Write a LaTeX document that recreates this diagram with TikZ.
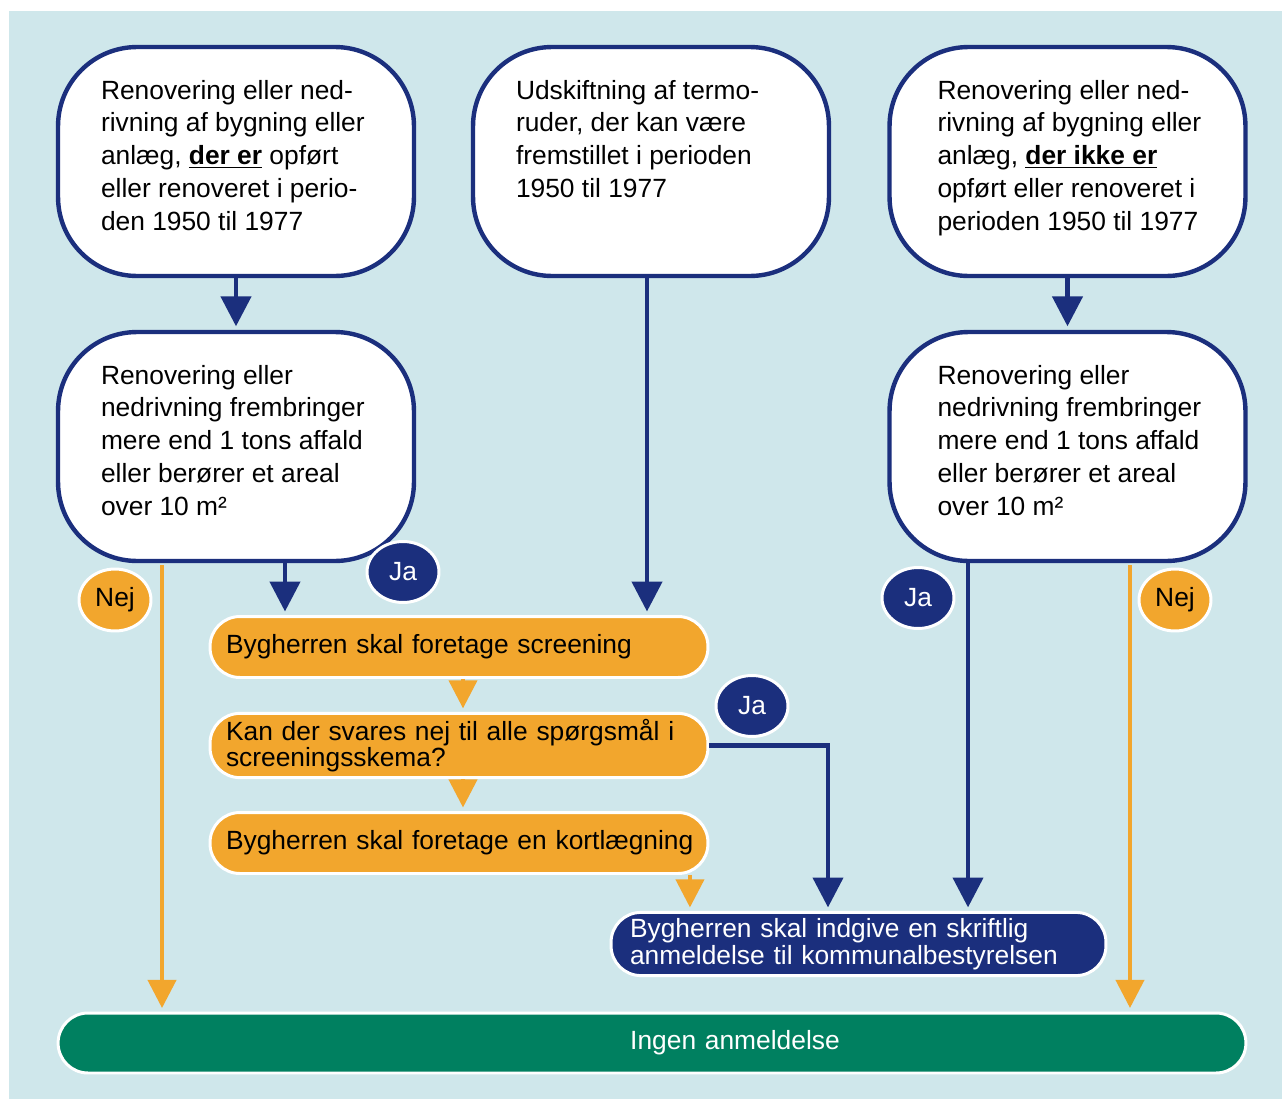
\documentclass[tikz,border=0pt]{standalone}
\usepackage{fontspec}
\setmainfont{Liberation Sans}
\usetikzlibrary{arrows.meta,shapes.geometric}

\definecolor{baggrund}{HTML}{CFE7EB}
\definecolor{marine}{HTML}{1B2F7D}
\definecolor{okker}{HTML}{F2A62D}
\definecolor{groen}{HTML}{008060}

% tekst i de hvide bokse, sat fra toppen
\newcommand{\boksfelt}[1]{\parbox[c][3.26cm][t]{5.4cm}{\raggedright #1}}

\tikzset{
    spoergsmaal/.style={draw=marine, line width=2.5pt, fill=white, rounded corners=45pt,
        inner xsep=0.86cm, inner ysep=0.66cm},
    handling/.style={draw=white, line width=1.7pt, fill=okker, rounded corners=17pt,
        minimum width=9.96cm, minimum height=1.22cm, text width=9.32cm, inner xsep=0.32cm,
        align=left},
    anmeldboks/.style={draw=white, line width=1.7pt, fill=marine, text=white, rounded corners=17pt,
        minimum width=9.9cm, minimum height=1.24cm, text width=9.14cm, inner xsep=0.38cm,
        align=left},
    slutboks/.style={draw=white, line width=1.7pt, fill=groen, text=white, rounded corners=17pt,
        minimum width=23.76cm, minimum height=1.2cm, text width=23cm, align=center},
    nejmaerke/.style={ellipse, draw=white, line width=1.7pt, fill=okker, inner sep=0pt,
        minimum width=1.44cm, minimum height=1.24cm},
    jamaerke/.style={ellipse, draw=white, line width=1.7pt, fill=marine, text=white, inner sep=0pt,
        minimum width=1.44cm, minimum height=1.22cm},
    navypil/.style={draw=marine, line width=2.6pt, -{Triangle[width=17pt,length=17pt]},
        shorten >=2pt},
    okkerpil/.style={draw=okker, line width=2.2pt, -{Triangle[width=16pt,length=16pt]},
        shorten >=2pt}
}

\begin{document}
\begin{tikzpicture}[x=0.02cm, y=-0.02cm, every node/.append style={font=\fontsize{15}{18.7}\selectfont}]
    % Baggrund
    \useasboundingbox (0,0) rectangle (1282,1099);
    \fill[baggrund] (9,11) rectangle (1282,1099);

    % Udgangspunkter
    \node[spoergsmaal] (renA) at (236,161.5) {\boksfelt{
        Renovering eller ned-\\
        rivning af bygning eller\\
        anlæg, \underline{\textbf{der er}} opført\\
        eller renoveret i perio-\\
        den 1950 til 1977}};
    \node[spoergsmaal] (termo) at (651,161.5) {\boksfelt{
        Udskiftning af termo-\\
        ruder, der kan være\\
        fremstillet i perioden\\
        1950 til 1977}};
    \node[spoergsmaal] (renB) at (1067.5,161.5) {\boksfelt{
        \hspace*{0.1cm}Renovering eller ned-\\
        \hspace*{0.1cm}rivning af bygning eller\\
        \hspace*{0.1cm}anlæg, \underline{\textbf{der ikke er}}\\
        \hspace*{0.1cm}opført eller renoveret i\\
        \hspace*{0.1cm}perioden 1950 til 1977}};

    % Affaldsmængde
    \node[spoergsmaal] (affA) at (236,446.5) {\boksfelt{
        Renovering eller\\
        nedrivning frembringer\\
        mere end 1 tons affald\\
        eller berører et areal\\
        over 10 m²}};
    \node[spoergsmaal] (affB) at (1067.5,446.5) {\boksfelt{
        \hspace*{0.1cm}Renovering eller\\
        \hspace*{0.1cm}nedrivning frembringer\\
        \hspace*{0.1cm}mere end 1 tons affald\\
        \hspace*{0.1cm}eller berører et areal\\
        \hspace*{0.1cm}over 10 m²}};

    % Screening og kortlægning
    \node[handling] (screen) at (459,647) {Bygherren skal foretage screening};
    \node[handling, font=\fontsize{15}{14.7}\selectfont] (spm) at (459,745.5) {Kan der svares nej til alle spørgsmål i\\ screeningsskema?};
    \node[handling] (kort) at (459,843) {\mbox{Bygherren skal foretage en kortlægning}};

    % Resultater
    \node[anmeldboks, font=\fontsize{15}{15.3}\selectfont] (anm) at (858.5,944) {Bygherren skal indgive en skriftlig\\ anmeldelse til kommunalbestyrelsen};
    \node[slutboks] (ingen) at (652,1043) {\hspace*{3.32cm}Ingen anmeldelse};

    % Ja/Nej
    \node[nejmaerke] (nejA) at (115,600) {Nej};
    \node[jamaerke] (jaA) at (403,572) {Ja};
    \node[jamaerke] (jaB) at (918,598) {Ja};
    \node[nejmaerke] (nejB) at (1175,600) {Nej};
    \node[jamaerke] (jaC) at (752,706) {Ja};

    % Pile
    \draw[navypil] (renA.south) -- (affA.north);
    \draw[navypil] (renB.south) -- (affB.north);
    \draw[navypil] ([xshift=0.98cm]affA.south) -- ([xshift=0.98cm]affA.south |- screen.north);
    \draw[navypil] ([xshift=-0.08cm]termo.south) -- ([xshift=-0.08cm]termo.south |- screen.north);
    \draw[navypil] ([xshift=-1.99cm]affB.south) -- ([xshift=-1.99cm]affB.south |- anm.north);
    \draw[navypil] (spm.east) -| ([xshift=-0.61cm]anm.north);
    \draw[okkerpil] ([xshift=0.08cm]screen.south) -- ([xshift=0.08cm]spm.north);
    \draw[okkerpil] ([xshift=0.08cm]spm.south) -- ([xshift=0.08cm]kort.north);
    \draw[okkerpil] ([xshift=4.62cm]kort.south) -- ([xshift=4.62cm]kort.south |- anm.north);
    \draw[okkerpil, shorten <=1.3pt] ([xshift=-1.48cm]affA.south) -- ([xshift=-1.48cm]affA.south |- ingen.north);
    \draw[okkerpil, shorten <=1.3pt] ([xshift=1.25cm]affB.south) -- ([xshift=1.25cm]affB.south |- ingen.north);
\end{tikzpicture}
\end{document}
